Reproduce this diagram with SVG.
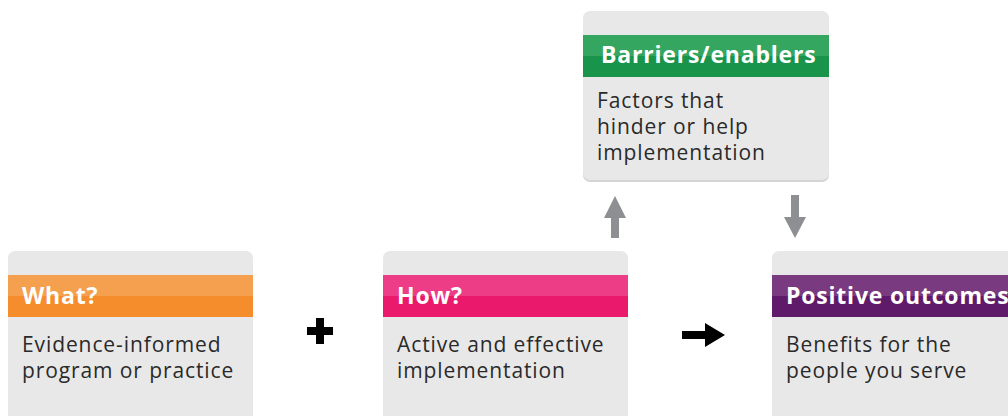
<svg xmlns="http://www.w3.org/2000/svg" width="1008" height="416" viewBox="0 0 1008 416">
<defs>
<style>
.card{fill:#E9E8E9;}
.shadow{fill:#D6D5D6;}
.hdr{font-family:"Open Sans","Liberation Sans",sans-serif;font-weight:bold;font-size:23px;letter-spacing:0.8px;fill:#FFFFFF;}
.body{font-family:"Open Sans","Liberation Sans",sans-serif;font-size:21px;letter-spacing:0.9px;fill:#2A2A2A;}
.garrow{fill:#8E8F92;}
</style>
</defs>
<rect width="1008" height="416" fill="#FFFFFF"/>
<g id="node-barriers">
<rect class="shadow" x="583" y="12" width="246" height="170" rx="7"/>
<rect class="card" x="583" y="11" width="246" height="169" rx="7"/>
<rect x="583" y="35" width="246" height="21" fill="#35A660"/>
<rect x="583" y="56" width="246" height="21" fill="#18944B"/>
<text class="hdr" x="601" y="63">Barriers/enablers</text>
<text class="body" x="597" y="108">Factors that</text>
<text class="body" x="597" y="134">hinder or help</text>
<text class="body" x="597" y="160">implementation</text>
</g>
<g id="node-what">
<rect class="card" x="8" y="251" width="245" height="180" rx="7"/>
<rect x="8" y="275" width="245" height="21" fill="#F4A04F"/>
<rect x="8" y="296" width="245" height="21" fill="#F58D2D"/>
<text class="hdr" x="22" y="304">What?</text>
<text class="body" x="22" y="352">Evidence-informed</text>
<text class="body" x="22" y="378">program or practice</text>
</g>
<g id="node-how">
<rect class="card" x="383" y="251" width="245" height="180" rx="7"/>
<rect x="383" y="275" width="245" height="21" fill="#EE3D87"/>
<rect x="383" y="296" width="245" height="21" fill="#EA196C"/>
<text class="hdr" x="397" y="304">How?</text>
<text class="body" x="397" y="352">Active and effective</text>
<text class="body" x="397" y="378">implementation</text>
</g>
<g id="node-outcomes">
<rect class="card" x="772" y="251" width="250" height="180" rx="7"/>
<rect x="772" y="275" width="250" height="21" fill="#7A3A80"/>
<rect x="772" y="296" width="250" height="21" fill="#601A6A"/>
<text class="hdr" x="786" y="304">Positive outcomes</text>
<text class="body" x="786" y="352">Benefits for the</text>
<text class="body" x="786" y="378">people you serve</text>
</g>
<g id="connectors">
<path d="M316 318 H324 V327 H333 V335 H324 V344 H316 V335 H307 V327 H316 Z" fill="#000000"/>
<path d="M682 331 H705 V323 L725 335 L705 347 V339 H682 Z" fill="#000000"/>
<path class="garrow" d="M611 238 V218 H604 L615 196 L626 218 H619 V238 Z"/>
<path class="garrow" d="M791 195 V217 H784 L795 238 L806 217 H799 V195 Z"/>
</g>
</svg>
